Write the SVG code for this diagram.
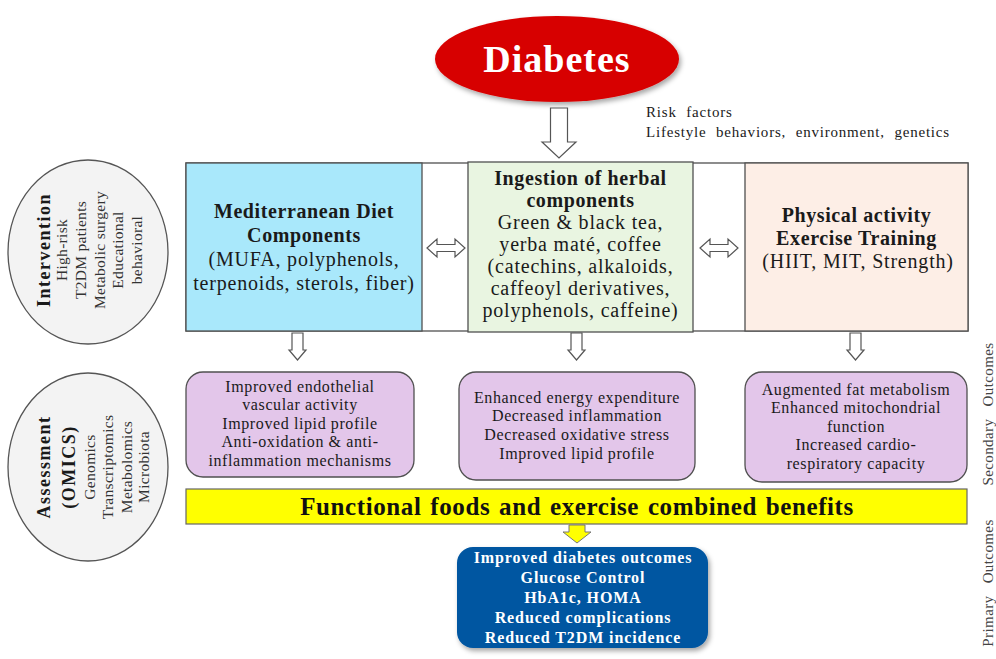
<svg xmlns="http://www.w3.org/2000/svg" width="996" height="659" viewBox="0 0 996 659">
<defs>
<filter id="sh" x="-20%" y="-20%" width="140%" height="150%">
<feDropShadow dx="2" dy="3" stdDeviation="2.5" flood-color="#000" flood-opacity="0.35"/>
</filter>
</defs>
<style>
text{font-family:"Liberation Serif","Times New Roman",serif;fill:#1a1a1a}
.t{font-size:20px;font-weight:bold;letter-spacing:0.6px;text-anchor:middle}
.r{font-size:20px;letter-spacing:0.8px;text-anchor:middle}
.p{font-size:16px;letter-spacing:0.6px;text-anchor:middle}
.w{font-size:16px;font-weight:bold;letter-spacing:0.9px;text-anchor:middle;fill:#fff}
.eb{font-size:18px;font-weight:bold;letter-spacing:1.5px;text-anchor:middle}
.er{font-size:15.5px;letter-spacing:0.3px;text-anchor:middle;fill:#333}
.side{font-size:15px;letter-spacing:0.4px;word-spacing:8px;text-anchor:middle;fill:#444}
.risk{font-size:15px;letter-spacing:0.8px;word-spacing:5px}
.box{stroke:#505050;stroke-width:1.3}
.pur{fill:#e3c6ea;stroke:#505050;stroke-width:1.3}
.arr{fill:#fff;stroke:#555;stroke-width:1.2}
.ell{fill:#f3f3f3;stroke:#555;stroke-width:1.3}
</style>

<g id="diabetes">
<ellipse cx="557" cy="59" rx="122" ry="43" fill="#d70000" filter="url(#sh)"/>
<text x="557" y="72" style="font-size:38px;font-weight:bold;letter-spacing:1px;text-anchor:middle;fill:#fff">Diabetes</text>
</g>

<g id="risk-factors">
<text class="risk" x="646" y="117">Risk factors</text>
<text class="risk" x="646" y="137">Lifestyle behaviors, environment, genetics</text>
</g>

<g id="intervention-ellipse">
<ellipse class="ell" cx="88" cy="252" rx="80" ry="92"/>
<g transform="translate(88,250)">
<text class="eb" transform="translate(-38,0) rotate(-90)">Intervention</text>
<text class="er" transform="translate(-21,0) rotate(-90)">High-risk</text>
<text class="er" transform="translate(-2,0) rotate(-90)">T2DM patients</text>
<text class="er" transform="translate(17,0) rotate(-90)">Metabolic surgery</text>
<text class="er" transform="translate(35,0) rotate(-90)">Educational</text>
<text class="er" transform="translate(54,0) rotate(-90)">behavioral</text>
</g>
</g>

<g id="assessment-ellipse">
<ellipse class="ell" cx="88" cy="467" rx="80" ry="94"/>
<g transform="translate(88,467)">
<text class="eb" transform="translate(-38,0) rotate(-90)">Assessment</text>
<text class="eb" transform="translate(-13,0) rotate(-90)">(OMICS)</text>
<text class="er" transform="translate(7,0) rotate(-90)">Genomics</text>
<text class="er" transform="translate(25,0) rotate(-90)">Transcriptomics</text>
<text class="er" transform="translate(44,0) rotate(-90)">Metabolomics</text>
<text class="er" transform="translate(61,0) rotate(-90)">Microbiota</text>
</g>
</g>

<g id="frame">
<rect x="186" y="163" width="782" height="168" fill="#fff" class="box"/>
</g>

<g id="mediterranean">
<rect x="186" y="163" width="236" height="168" fill="#a9e8fb" class="box"/>
<text class="t" x="304" y="218">Mediterranean Diet</text>
<text class="t" x="304" y="242">Components</text>
<text class="r" x="304" y="266">(MUFA, polyphenols,</text>
<text class="r" x="304" y="290">terpenoids, sterols, fiber)</text>
</g>

<g id="herbal">
<rect x="468" y="162" width="225" height="170" fill="#e9f5e1" class="box"/>
<text class="t" x="580.5" y="185">Ingestion of herbal</text>
<text class="t" x="580.5" y="207">components</text>
<text class="r" x="580.5" y="229">Green &amp; black tea,</text>
<text class="r" x="580.5" y="251">yerba maté, coffee</text>
<text class="r" x="580.5" y="273">(catechins, alkaloids,</text>
<text class="r" x="580.5" y="295">caffeoyl derivatives,</text>
<text class="r" x="580.5" y="317">polyphenols, caffeine)</text>
</g>

<g id="physical">
<rect x="745" y="163" width="223" height="168" fill="#fdeee6" class="box"/>
<text class="t" x="856.5" y="222">Physical activity</text>
<text class="t" x="856.5" y="245">Exercise Training</text>
<text class="r" x="858" y="268">(HIIT, MIT, Strength)</text>
</g>

<g id="outcome-med">
<rect class="pur" x="186" y="372" width="228" height="105" rx="17"/>
<text class="p" x="300" y="392">Improved endothelial</text>
<text class="p" x="300" y="410">vascular activity</text>
<text class="p" x="300" y="429">Improved lipid profile</text>
<text class="p" x="300" y="447">Anti-oxidation &amp; anti-</text>
<text class="p" x="300" y="466">inflammation mechanisms</text>
</g>

<g id="outcome-herbal">
<rect class="pur" x="459" y="372" width="236" height="108" rx="17"/>
<text class="p" x="577" y="403">Enhanced energy expenditure</text>
<text class="p" x="577" y="421">Decreased inflammation</text>
<text class="p" x="577" y="440">Decreased oxidative stress</text>
<text class="p" x="577" y="459">Improved lipid profile</text>
</g>

<g id="outcome-physical">
<rect class="pur" x="745" y="372" width="222" height="110" rx="17"/>
<text class="p" x="856" y="395">Augmented fat metabolism</text>
<text class="p" x="856" y="413">Enhanced mitochondrial</text>
<text class="p" x="856" y="432">function</text>
<text class="p" x="856" y="450">Increased cardio-</text>
<text class="p" x="856" y="469">respiratory capacity</text>
</g>

<g id="combined">
<rect x="186" y="489" width="781" height="35" fill="#ffff00" stroke="#666" stroke-width="1.2"/>
<text x="577" y="515" style="font-size:25px;font-weight:bold;letter-spacing:0.6px;word-spacing:2px;text-anchor:middle;fill:#111">Functional foods and exercise combined benefits</text>
</g>

<g id="primary">
<rect x="457" y="547" width="251" height="101" rx="16" fill="#0656a1" filter="url(#sh)"/>
<text class="w" x="583" y="563">Improved diabetes outcomes</text>
<text class="w" x="583" y="583">Glucose Control</text>
<text class="w" x="583" y="603">HbA1c, HOMA</text>
<text class="w" x="583" y="623">Reduced complications</text>
<text class="w" x="583" y="643">Reduced T2DM incidence</text>
</g>

<g id="side-labels">
<text class="side" transform="translate(993,414) rotate(-90)">Secondary Outcomes</text>
<text class="side" transform="translate(993,583) rotate(-90)">Primary Outcomes</text>
</g>

<g id="connectors">
<path class="arr" d="M550.5,108 H567.5 V142 H576 L559,158 L542,142 H550.5 Z"/>
<path class="arr" d="M427,248 L437,239 V244.5 H455 V239 L465,248 L455,257 V251.5 H437 V257 Z"/>
<path class="arr" d="M700,248 L710,239 V244.5 H728 V239 L738,248 L728,257 V251.5 H710 V257 Z"/>
<path class="arr" d="M292,333 H303 V350 H306 L297.5,360 L289,350 H292 Z"/>
<path class="arr" d="M571,333 H582 V350 H585 L576.5,360 L568,350 H571 Z"/>
<path class="arr" d="M850,333 H861 V350 H864 L855.5,360 L847,350 H850 Z"/>
<path d="M569,525 H585 V532 H591 L577,543 L563,532 H569 Z" fill="#ffff00" stroke="#777" stroke-width="1"/>
</g>
</svg>
